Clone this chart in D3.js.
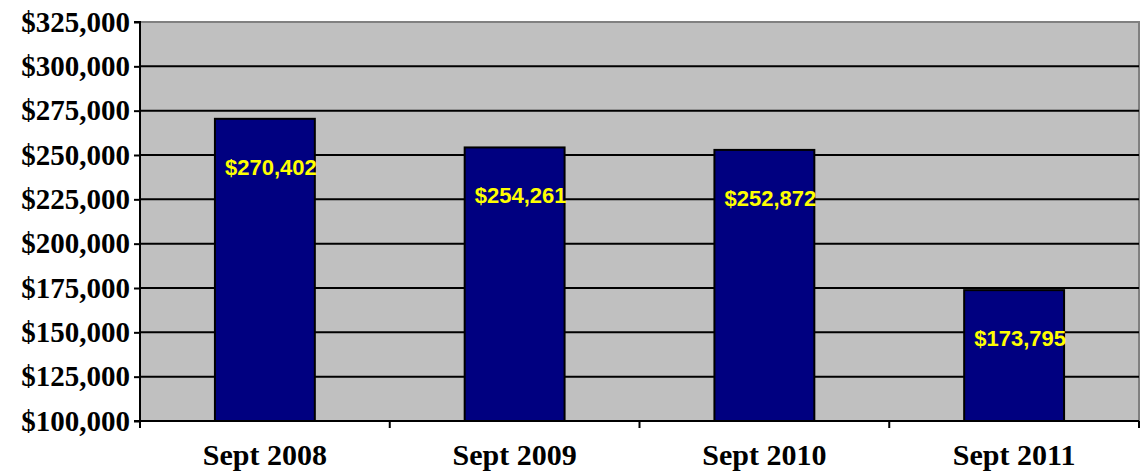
<!DOCTYPE html>
<html>
<head>
<meta charset="utf-8">
<script src="https://d3js.org/d3.v7.min.js"></script>
<style>
    body {
        margin: 0;
        background-color: white;
    }

    svg {
        display: block;
    }
</style>
</head>
<body>
<svg></svg>
<script>
    const periods = ["Sept 2008", "Sept 2009", "Sept 2010", "Sept 2011"];
    const amounts = [270402, 254261, 252872, 173795];
    const yTicks = [100000, 125000, 150000, 175000, 200000, 225000, 250000, 275000, 300000, 325000];

    function createVis() {
        let width = 1144;
        let height = 472;
        let left = 140, right = 1139, top = 22, bottom = 421;
        let svg = d3.select("svg")
            .attr("width", width)
            .attr("height", height);

        let xScale = d3.scaleBand()
            .domain(periods)
            .range([left, right])
            .paddingInner(0.6)
            .paddingOuter(0.3);

        let yScale = d3.scaleLinear()
            .domain([100000, 325000])
            .range([bottom, top]);

        let money = d => "$" + d3.format(",")(d);

        // plot area
        svg.append("rect")
            .attr("x", left)
            .attr("y", top)
            .attr("width", right - left)
            .attr("height", bottom - top)
            .attr("fill", "#c0c0c0")
            .attr("stroke", "#808080")
            .attr("stroke-width", 2);

        // gridlines
        svg.selectAll(".grid")
            .data(yTicks.filter(t => t > 100000 && t < 325000))
            .join("line")
            .attr("class", "grid")
            .attr("x1", left)
            .attr("x2", right)
            .attr("y1", d => yScale(d))
            .attr("y2", d => yScale(d))
            .attr("stroke", "black")
            .attr("stroke-width", 2);

        // bars
        svg.selectAll(".bar")
            .data(amounts)
            .join("rect")
            .attr("class", "bar")
            .attr("x", (d, i) => xScale(periods[i]))
            .attr("y", d => yScale(d))
            .attr("width", xScale.bandwidth())
            .attr("height", d => bottom - yScale(d))
            .attr("fill", "#000080")
            .attr("stroke", "black")
            .attr("stroke-width", 2);

        // value labels
        svg.selectAll(".label")
            .data(amounts)
            .join("text")
            .attr("class", "label")
            .attr("x", (d, i) => xScale(periods[i]) + xScale.bandwidth() / 2 + 6)
            .attr("y", d => yScale(d) + 56)
            .attr("text-anchor", "middle")
            .attr("font-family", "Liberation Sans, Arial, sans-serif")
            .attr("font-weight", "bold")
            .attr("font-size", 22)
            .attr("fill", "#ffff00")
            .text(money);

        // y axis
        let yAxis = svg.append("g")
            .attr("transform", `translate(${left},0)`)
            .call(d3.axisLeft(yScale).tickValues(yTicks).tickFormat(money).tickSize(6).tickPadding(4));
        yAxis.select(".domain").attr("stroke-width", 2).attr("d", `M-6,${bottom}H0V${top}H-6`);
        yAxis.selectAll(".tick line").attr("stroke-width", 2);
        yAxis.selectAll("text")
            .attr("font-family", "Liberation Serif, Times New Roman, serif")
            .attr("font-weight", "bold")
            .attr("font-size", 29)
            .attr("fill", "black");

        // x axis
        let boundaries = d3.range(periods.length + 1).map(i => left + i * (right - left) / periods.length);
        svg.append("line")
            .attr("x1", left)
            .attr("x2", right)
            .attr("y1", bottom)
            .attr("y2", bottom)
            .attr("stroke", "black")
            .attr("stroke-width", 2);
        svg.selectAll(".xtick")
            .data(boundaries)
            .join("line")
            .attr("class", "xtick")
            .attr("x1", d => d)
            .attr("x2", d => d)
            .attr("y1", bottom)
            .attr("y2", bottom + 7)
            .attr("stroke", "black")
            .attr("stroke-width", 2);
        svg.selectAll(".xlabel")
            .data(periods)
            .join("text")
            .attr("class", "xlabel")
            .attr("x", d => xScale(d) + xScale.bandwidth() / 2)
            .attr("y", 465)
            .attr("text-anchor", "middle")
            .attr("font-family", "Liberation Serif, Times New Roman, serif")
            .attr("font-weight", "bold")
            .attr("font-size", 30)
            .text(d => d);
    }
    createVis();
</script>
</body>
</html>
